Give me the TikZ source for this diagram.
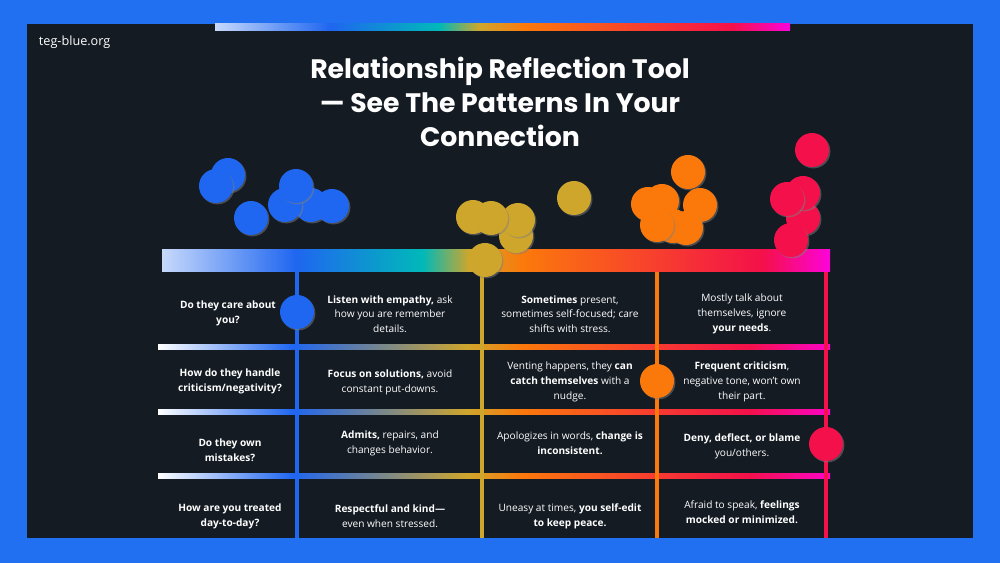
\documentclass[tikz,border=0pt]{standalone}
\usepackage{fontspec}
\setmainfont{Open Sans}
\newfontfamily\titlefont{Poppins}
\usetikzlibrary{shadows,positioning}
\hyphenpenalty=10000
\definecolor{frame}{HTML}{2270F2}
\definecolor{panel}{HTML}{141B23}
\definecolor{cblue}{HTML}{1F66F0}
\definecolor{cgold}{HTML}{CFA62C}
\definecolor{corange}{HTML}{FB790B}
\definecolor{cred}{HTML}{F4104A}
\pgfdeclarehorizontalshading{barshade}{100bp}{color(0bp)=(white!75!cblue); color(25bp)=(white!75!cblue); color(35bp)=(cblue); color(44.5bp)=(cyan!45!teal); color(48bp)=(cgold); color(52bp)=(corange); color(70bp)=(cred); color(75bp)=(magenta!80!cred); color(100bp)=(magenta!80!cred)}
\pgfdeclarehorizontalshading{rowshade}{100bp}{color(0bp)=(white); color(25bp)=(white); color(35bp)=(cblue); color(48bp)=(cgold); color(52bp)=(corange); color(69bp)=(cred); color(75bp)=(magenta!70!cred); color(100bp)=(magenta!70!cred)}
\begin{document}
\begin{tikzpicture}[x=0.025cm,y=-0.025cm,
    dot/.style={circle,minimum size=0.85cm,inner sep=0pt,drop shadow={opacity=0.5,shadow xshift=1pt,shadow yshift=-1pt}},
    cell/.style={text=white,align=center,font=\fontsize{7.2}{10.5}\selectfont},
    ask/.style={cell,font=\bfseries\fontsize{7.2}{10.5}\selectfont}]
  \fill[frame] (0,0) rectangle (1000,563);
  \fill[panel] (27,24) rectangle (973,538);
  \useasboundingbox (0,0) rectangle (1000,563);
  \shade[shading=barshade] (215,24) rectangle (790,31);
  \node[text=white,anchor=west,font=\fontsize{9}{11}\selectfont] (site) at (34,42) {teg-blue.org};
  \node[text=white,align=center,font=\titlefont\bfseries\fontsize{19}{24}\selectfont] (title) at (500,102)
    {Relationship Reflection Tool\\— See The Patterns In Your\\Connection};
  % scale bar and grid
  \shade[shading=barshade] (162,250) rectangle (830,272);
  \foreach \y in {347,412,476}
    \shade[shading=rowshade] (158,\y-2.5) rectangle (830,\y+2.5);
  \fill[cblue] (295,272) rectangle (299,538);
  \fill[cgold] (480,272) rectangle (484,538);
  \fill[corange] (655,272) rectangle (659,538);
  \fill[cred] (824,272) rectangle (828,538);
  % floating dots
  \foreach \x/\y [count=\i] in {228/175,216/186,251/218,311/205,285/205,296/186,332/206}
    \node[dot,fill=cblue] (b\i) at (\x,\y) {};
  \foreach \x/\y [count=\i] in {574/198,473/217,516/236,518/220,491/218}
    \node[dot,fill=cgold] (g\i) at (\x,\y) {};
  \foreach \x/\y [count=\i] in {688/172,648/204,700/205,662/201,673/226,686/228,657/225}
    \node[dot,fill=corange] (o\i) at (\x,\y) {};
  \foreach \x/\y [count=\i] in {812/150,803/218,803/193,787/199,791/240}
    \node[dot,fill=cred] (r\i) at (\x,\y) {};
  \node[dot,fill=cgold] (gbar) at (485,260) {};
  \node[dot,fill=cblue] (brow) at (297,312) {};
  \node[dot,fill=corange] (orow) at (657,381) {};
  \node[dot,fill=cred] (rrow) at (826,444) {};
  % questions
  \node[ask] (q1) at (228,313) {Do they care about\\you?};
  \node[ask] (q2) at (230,381) {How do they handle\\criticism/negativity?};
  \node[ask] (q3) at (230,450) {Do they own\\mistakes?};
  \node[ask] (q4) at (230,516) {How are you treated\\day-to-day?};
  % answers
  \node[cell] (a11) at (390,314) {\textbf{Listen with empathy,} ask\\how you are remember\\details.};
  \node[cell] (a12) at (570,314) {\textbf{Sometimes} present,\\sometimes self-focused; care\\shifts with stress.};
  \node[cell] (a13) at (742,314) {Mostly talk about\\themselves, ignore\\\textbf{your needs}.};
  \node[cell] (a21) at (390,382) {\textbf{Focus on solutions,} avoid\\constant put-downs.};
  \node[cell] (a22) at (570,382) {Venting happens, they \textbf{can}\\\textbf{catch themselves} with a\\nudge.};
  \node[cell] (a23) at (742,382) {\textbf{Frequent criticism},\\negative tone, won’t own\\their part.};
  \node[cell] (a31) at (390,443) {\textbf{Admits,} repairs, and\\changes behavior.};
  \node[cell] (a32) at (570,443) {Apologizes in words, \textbf{change is}\\\textbf{inconsistent.}};
  \node[cell] (a33) at (742,446) {\textbf{Deny, deflect, or blame}\\you/others.};
  \node[cell] (a41) at (390,516) {\textbf{Respectful and kind—}\\even when stressed.};
  \node[cell] (a42) at (570,516) {Uneasy at times, \textbf{you self-edit}\\\textbf{to keep peace.}};
  \node[cell] (a43) at (742,512) {Afraid to speak, \textbf{feelings}\\\textbf{mocked or minimized.}};
\end{tikzpicture}
\end{document}
